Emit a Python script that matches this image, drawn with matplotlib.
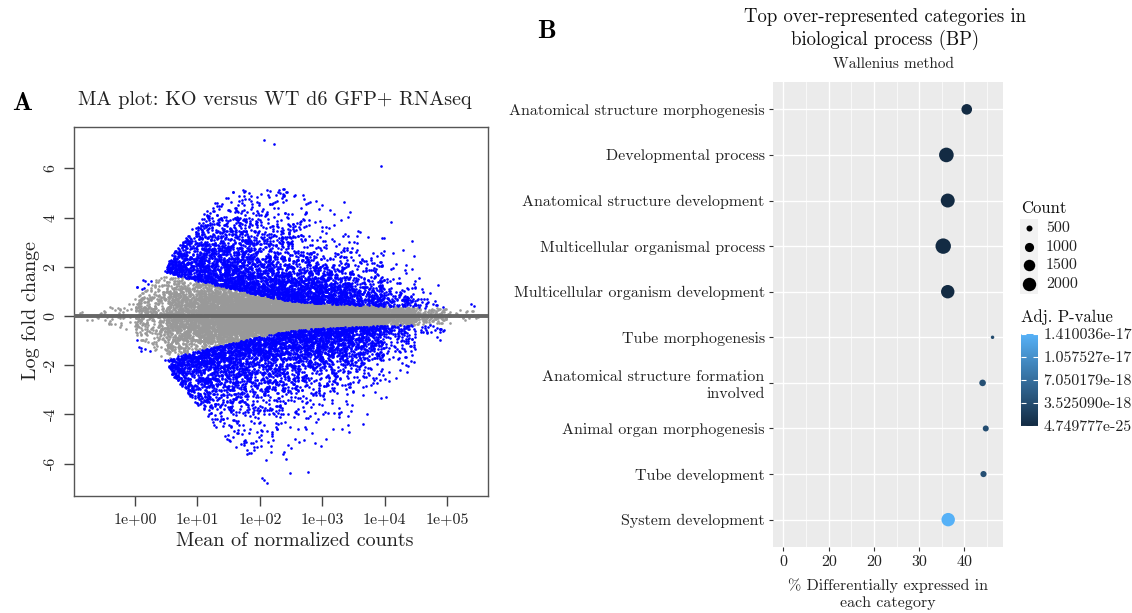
import numpy as np
import matplotlib
matplotlib.use("Agg")
import matplotlib.pyplot as plt
from matplotlib.colors import LinearSegmentedColormap, Normalize
from matplotlib.colorbar import ColorbarBase
from matplotlib.patches import Rectangle

plt.rcParams["font.family"] = "cmr10"
plt.rcParams["axes.formatter.use_mathtext"] = True
plt.rcParams["axes.unicode_minus"] = False

# ---- panel A: MA plot (log10 mean of normalized counts vs log fold change) ----
# genes per half-decade bin of log10(mean)
bin_m = [-0.75, -0.25, 0.25, 0.75, 1.25, 1.75, 2.25, 2.75, 3.25, 3.75, 4.25, 4.75, 5.25]
gray_n = [12, 40, 350, 1000, 1500, 1900, 2100, 2100, 1800, 1200, 550, 130, 25]
blue_up_n = [0, 0, 40, 420, 700, 780, 700, 620, 480, 300, 120, 25, 3]
blue_dn_n = [0, 0, 40, 440, 650, 680, 650, 640, 560, 360, 130, 25, 2]

# half width of the non-significant band, and spread of significant genes
knot_m = [-1.0, -0.5, 0.0, 0.3, 0.45, 0.8, 1.4, 2.0, 2.5, 3.0, 4.0, 5.0, 5.6]
gray_hw = [0.15, 0.35, 0.8, 1.45, 1.8, 1.55, 1.2, 0.85, 0.6, 0.5, 0.4, 0.3, 0.25]
blue_scale = [0.5, 0.5, 0.5, 0.5, 0.7, 1.3, 1.4, 1.35, 1.2, 1.0, 0.65, 0.3, 0.3]

# outer limits of the significant genes
env_m = [0.3, 0.45, 0.6, 0.9, 1.1, 1.3, 1.6, 2.0, 3.0, 3.5, 4.0, 4.5, 5.0, 5.6]
up_env = [1.45, 1.8, 2.5, 3.5, 4.2, 4.7, 5.1, 5.3, 5.0, 4.8, 3.9, 2.6, 1.0, 0.6]
dn_env = [-1.45, -1.8, -2.4, -3.3, -3.9, -4.6, -5.3, -6.0, -5.6, -4.6, -3.5, -2.0, -1.0, -0.6]

# isolated extreme genes
out_mean = [117, 166, 8900, 27500, 29500, 12600, 107, 118, 130, 309, 589, 4570, 10500, 21900]
out_lfc = [7.15, 7.0, 6.1, 3.05, 2.44, 3.8, -6.6, -6.67, -6.8, -6.4, -6.35, -4.4, -3.3, -2.0]

# ---- panel B: GO biological process enrichment ----
categories = [
    "Anatomical structure morphogenesis",
    "Developmental process",
    "Anatomical structure development",
    "Multicellular organismal process",
    "Multicellular organism development",
    "Tube morphogenesis",
    "Anatomical structure formation\ninvolved",
    "Animal organ morphogenesis",
    "Tube development",
    "System development",
]
pct_de = [40.5, 36.0, 36.3, 35.3, 36.3, 46.2, 44.0, 44.7, 44.2, 36.4]
counts = [1300, 2350, 2150, 2600, 2000, 250, 580, 500, 520, 2000]
padj = [2.0e-21, 4.749777e-25, 1.0e-23, 5.0e-24, 3.0e-22,
        3.4e-18, 3.9e-18, 3.6e-18, 3.8e-18, 1.410036e-17]
size_breaks = [500, 1000, 1500, 2000]
p_breaks = [4.749777e-25, 3.525090e-18, 7.050179e-18, 1.057527e-17, 1.410036e-17]
p_labels = ["4.749777e-25", "3.525090e-18", "7.050179e-18", "1.057527e-17", "1.410036e-17"]
x_ticks = [0, 10, 20, 30, 40]
x_labels = ["0", "20", "20", "30", "40"]

W, H = 1132, 613
fig = plt.figure(figsize=(W / 100, H / 100), dpi=100)


def fx(x):
    return x / W


def fy(y):
    return 1 - y / H


rng = np.random.default_rng(7)


def sample_m(ns):
    return np.concatenate([rng.uniform(c - 0.25, c + 0.25, n) for c, n in zip(bin_m, ns)])


gm = sample_m(gray_n)
z = rng.normal(0, 0.6, gm.size)
bad = np.abs(z) > 1
while bad.any():
    z[bad] = rng.normal(0, 0.6, bad.sum())
    bad = np.abs(z) > 1
glfc = z * np.interp(gm, knot_m, gray_hw)


def sig_genes(ns, env, sign):
    m = sample_m(ns)
    thr = np.interp(m, knot_m, gray_hw)
    lim = np.abs(np.interp(m, env_m, env))
    # fewer genes where the band between threshold and limit is narrow
    keep = rng.uniform(size=m.size) < np.clip((lim - thr) / 1.2, 0, 1)
    m, thr, lim = m[keep], thr[keep], lim[keep]
    sc = np.interp(m, knot_m, blue_scale)
    v = thr + rng.exponential(sc)
    for _ in range(60):
        bad = v > lim
        if not bad.any():
            break
        v[bad] = thr[bad] + rng.exponential(sc[bad])
    v = np.minimum(v, lim)
    return m, sign * v


um, ulfc = sig_genes(blue_up_n, up_env, 1)
dm, dlfc = sig_genes(blue_dn_n, dn_env, -1)
bm = np.concatenate([um, dm])
blfc = np.concatenate([ulfc, dlfc])

ax1 = fig.add_axes([fx(74), fy(496), fx(488) - fx(74), fy(127) - fy(496)])
ax1.set_xscale("log")
ax1.scatter(10 ** gm, glfc, s=3.6, c="#999999", linewidths=0, zorder=2)
ax1.scatter(10 ** bm, blfc, s=3.6, c="#0000FF", linewidths=0, zorder=3)
ax1.scatter(out_mean, out_lfc, s=3.6, c="#0000FF", linewidths=0, zorder=3)
ax1.axhline(0, color="#666666", lw=2.8, zorder=4)
ax1.set_xlim(10 ** -0.98, 10 ** 5.66)
ax1.set_ylim(-7.32, 7.68)
ax1.set_xticks([1, 10, 100, 1e3, 1e4, 1e5])
ax1.set_xticklabels(["1e+00", "1e+01", "1e+02", "1e+03", "1e+04", "1e+05"])
ax1.xaxis.set_minor_locator(matplotlib.ticker.NullLocator())
ax1.set_yticks([-6, -4, -2, 0, 2, 4, 6])
ax1.set_yticklabels(["-6", "-4", "-2", "0", "2", "4", "6"], rotation=90, va="center")
ax1.tick_params(direction="out", length=7, width=1, color="#444444", labelsize=11.5,
                labelcolor="#222222", pad=5)
for sp in ax1.spines.values():
    sp.set_color("#555555")
    sp.set_linewidth(1)

fig.text(fx(275), fy(100), "MA plot: KO versus WT d6 GFP+ RNAseq", ha="center", va="center",
         fontsize=14.5, color="#222222")
fig.text(fx(295), fy(541), "Mean of normalized counts", ha="center", va="center",
         fontsize=14.5, color="#222222")
fig.text(fx(31), fy(311), "Log fold change", ha="center", va="center", rotation=90,
         fontsize=14.5, color="#222222")
fig.text(fx(22), fy(104), "A", ha="center", va="center", fontsize=19, family="cmb10")
fig.text(fx(547), fy(32), "B", ha="center", va="center", fontsize=19, family="cmb10")

# ---- panel B drawing ----
cmap = LinearSegmentedColormap.from_list("gg", ["#132B43", "#56B1F7"])
norm = Normalize(vmin=p_breaks[0], vmax=p_breaks[-1])


def size_pt2(c):
    r_px = np.sqrt(0.024 * np.asarray(c, dtype=float) - 3)
    return (2 * r_px * 0.72) ** 2


ypos = np.arange(len(categories))[::-1] + 1
ax2 = fig.add_axes([fx(773), fy(547), fx(1003) - fx(773), fy(82) - fy(547)])
ax2.set_facecolor("#EBEBEB")
ax2.scatter(pct_de, ypos, s=size_pt2(counts), c=cmap(norm(padj)), linewidths=0, zorder=3)
ax2.set_xlim(-0.05 * 46.2, 46.2 * 1.05)
ax2.set_ylim(0.4, len(categories) + 0.6)
ax2.set_xticks(x_ticks)
ax2.set_xticklabels(x_labels)
ax2.set_xticks([5, 15, 25, 35, 45], minor=True)
ax2.set_yticks(ypos)
ax2.set_yticklabels(categories, fontsize=11.5, linespacing=1.25)
ax2.grid(which="major", color="white", lw=1.0, zorder=1)
ax2.grid(which="minor", axis="x", color="white", lw=0.5, zorder=1)
ax2.set_axisbelow(True)
ax2.tick_params(which="major", direction="out", length=3, width=0.8, color="#333333",
                labelsize=11.5, labelcolor="#222222", pad=3)
ax2.tick_params(which="minor", length=0)
for sp in ax2.spines.values():
    sp.set_visible(False)

fig.text(fx(885), fy(29), "Top over-represented categories in\nbiological process (BP)",
         ha="center", va="center", fontsize=13.5, linespacing=1.3, color="#111111")
fig.text(fx(893), fy(64), "Wallenius method", ha="center", va="center", fontsize=11,
         color="#222222")
fig.text(fx(888), fy(594), "% Differentially expressed in\neach category", ha="center",
         va="center", fontsize=11.5, linespacing=1.3, color="#222222")

# size legend
lax = fig.add_axes([0, 0, 1, 1])
lax.set_xlim(0, W)
lax.set_ylim(H, 0)
lax.axis("off")
fig.text(fx(1021), fy(208), "Count", ha="left", va="center", fontsize=12, color="#111111")
lax.add_patch(Rectangle((1020, 219), 18, 75, facecolor="#F2F2F2", edgecolor="none"))
for i, c in enumerate(size_breaks):
    yy = 228 + i * 18.7
    lax.scatter([1029], [yy], s=size_pt2(c), c="black", linewidths=0)
    fig.text(fx(1046), fy(yy), str(c), ha="left", va="center", fontsize=11.5, color="#222222")

# colour legend
fig.text(fx(1021), fy(317), "Adj. P-value", ha="left", va="center", fontsize=12, color="#111111")
cax = fig.add_axes([fx(1021), fy(426), fx(1038) - fx(1021), fy(334) - fy(426)])
cb = ColorbarBase(cax, cmap=cmap, norm=norm, orientation="vertical", ticks=p_breaks)
cb.outline.set_visible(False)
cb.set_ticklabels(p_labels)
cax.yaxis.set_ticks_position("both")
cax.tick_params(direction="in", length=3.5, width=0.8, color="white", labelsize=11.5,
                labelcolor="#222222", labelright=True, labelleft=False, pad=4)

fig.savefig("out.png", dpi=100)
